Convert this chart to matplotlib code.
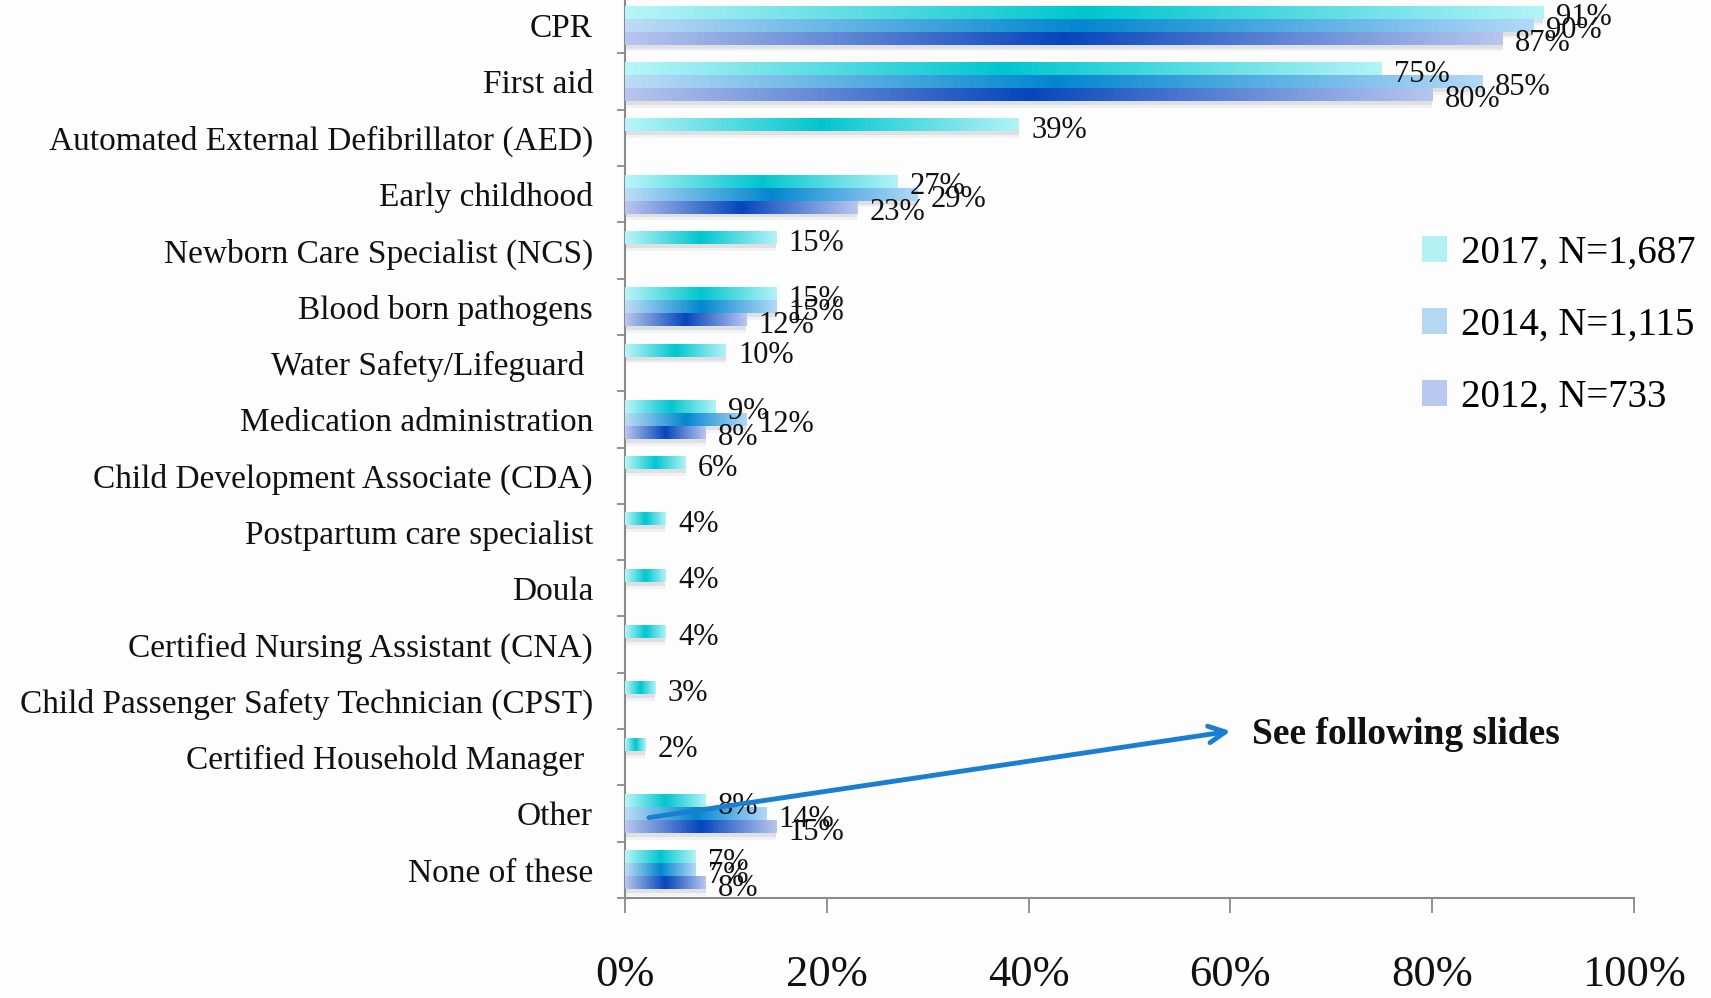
import numpy as np
import matplotlib
matplotlib.use('Agg')
import matplotlib.pyplot as plt
from matplotlib.colors import LinearSegmentedColormap
from matplotlib.patches import Patch

plt.rcParams['font.family'] = ['Liberation Serif', 'DejaVu Serif']

# categories top to bottom
categories = ['CPR', 'First aid', 'Automated External Defibrillator (AED)', 'Early childhood',
              'Newborn Care Specialist (NCS)', 'Blood born pathogens', 'Water Safety/Lifeguard ',
              'Medication administration', 'Child Development Associate (CDA)',
              'Postpartum care specialist', 'Doula', 'Certified Nursing Assistant (CNA)',
              'Child Passenger Safety Technician (CPST)', 'Certified Household Manager ',
              'Other', 'None of these']

# None = not asked that year
vals_2017 = [91, 75, 39, 27, 15, 15, 10, 9, 6, 4, 4, 4, 3, 2, 8, 7]
vals_2014 = [90, 85, None, 29, None, 15, None, 12, None, None, None, None, None, None, 14, 7]
vals_2012 = [87, 80, None, 23, None, 12, None, 8, None, None, None, None, None, None, 15, 8]

series_labels = ['2017, N=1,687', '2014, N=1,115', '2012, N=733']
x_ticks = [0, 20, 40, 60, 80, 100]

# gradient colours (light edge, dark middle, light edge)
grads = [
    ['#b8f5f8', '#00c6cf', '#b2f3f7'],
    ['#bcdcf6', '#0387cf', '#b2d8f8'],
    ['#b8c6ee', '#0646bb', '#b8c6ef'],
]
legend_cols = ['#b4f1f4', '#b4d8f4', '#b8c8ee']

fig = plt.figure(figsize=(17.11, 9.98), dpi=100)
fig.patch.set_facecolor('#fdfdfd')
ax = fig.add_axes([0.3653, 0.1002, 0.5897, 0.9028])
ax.set_facecolor('none')

y = np.arange(len(categories))
bar_h = 0.23
offsets = [-0.23, 0.0, 0.23]
grad_img = np.linspace(0, 1, 256).reshape(1, -1)

for s, vals in enumerate([vals_2017, vals_2014, vals_2012]):
    cmap = LinearSegmentedColormap.from_list('g%d' % s, grads[s])
    idx = [i for i, v in enumerate(vals) if v is not None]
    w = [vals[i] for i in idx]
    pos = y[idx] + offsets[s]
    # soft shadow under the bars
    ax.barh(pos + 0.07, w, height=bar_h, color='#5a6470', alpha=0.12, zorder=1, linewidth=0)
    ax.barh(pos + 0.12, w, height=bar_h, color='#5a6470', alpha=0.07, zorder=1, linewidth=0)
    bars = ax.barh(pos, w, height=bar_h, color='none', linewidth=0, zorder=2)
    for b, v in zip(bars, w):
        x0, y0 = b.get_x(), b.get_y()
        ax.imshow(grad_img, cmap=cmap, aspect='auto', zorder=3,
                  extent=(x0, x0 + b.get_width(), y0 + b.get_height(), y0))
        ax.annotate('%d%%' % v, xy=(x0 + b.get_width(), y0 + b.get_height() / 2),
                    xytext=(9, -4), textcoords='offset points', ha='left', va='center',
                    fontsize=22, color='#111111', zorder=5)

ax.set_xlim(0, 100)
ax.set_ylim(len(categories) - 0.5, -0.5)

ax.set_yticks(y)
ax.set_yticklabels(categories, fontsize=24, color='#111111')
ax.tick_params(axis='y', which='major', length=0, pad=23)
ax.set_yticks(np.arange(-0.5, len(categories), 1), minor=True)
ax.tick_params(axis='y', which='minor', length=6, width=1.3, color='#8a8a8a', direction='out')

ax.set_xticks(x_ticks)
ax.set_xticklabels(['%d%%' % t for t in x_ticks], fontsize=32, color='#111111')
ax.tick_params(axis='x', length=11, width=1.3, color='#8a8a8a', pad=30)

for sp in ['top', 'right']:
    ax.spines[sp].set_visible(False)
for sp in ['left', 'bottom']:
    ax.spines[sp].set_color('#8a8a8a')
    ax.spines[sp].set_linewidth(1.5)

handles = [Patch(facecolor=c, edgecolor='none') for c in legend_cols]
ax.legend(handles, series_labels, loc='upper left', bbox_to_anchor=(0.831, 0.765),
          bbox_transform=fig.transFigure, frameon=False, fontsize=28,
          handlelength=0.65, handleheight=0.65, handletextpad=0.35, labelspacing=0.9,
          borderaxespad=0, borderpad=0)

# annotation arrow to following slides
ax.annotate('', xy=(60.3, 12.53), xytext=(2.1, 14.08),
            arrowprops=dict(arrowstyle='->', color='#1a7fd0', lw=3.5, mutation_scale=30),
            zorder=6)
ax.text(62.1, 12.6, 'See following slides', fontsize=27, fontweight='bold',
        ha='left', va='center', color='#111111', zorder=6)

fig.savefig('out.png', dpi=100, facecolor=fig.get_facecolor())
